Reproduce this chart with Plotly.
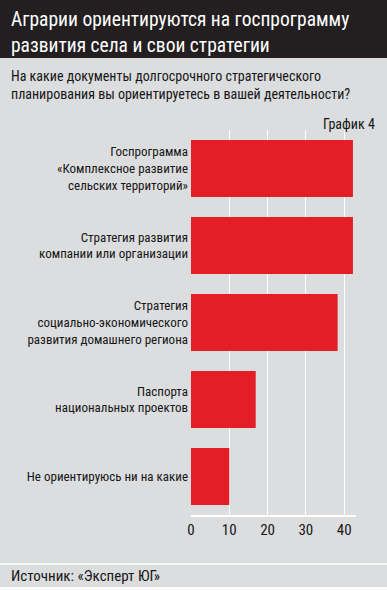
import plotly.graph_objects as go

categories = [
    "Госпрограмма<br>«Комплексное развитие<br>сельских территорий»",
    "Стратегия развития<br>компании или организации",
    "Стратегия<br>социально-экономического<br>развития домашнего региона",
    "Паспорта<br>национальных проектов",
    "Не ориентируюсь ни на какие",
]
values = [42.3, 42.3, 38.3, 16.9, 10.0]
tick_vals = [0, 10, 20, 30, 40]

title_lines = ["Аграрии ориентируются на госпрограмму", "развития села и свои стратегии"]
subtitle = "На какие документы долгосрочного стратегического<br>планирования вы ориентируетесь в вашей деятельности?"
chart_label = "График 4"
source = "Источник: «Эксперт ЮГ»"

W, H = 387, 590
L, R, T, B = 191, 31, 130, 75
pw, ph = W - L - R, H - T - B

FONT = "Roboto Condensed, Liberation Sans Narrow, sans-serif"
BG = "#dcdddf"
RED = "#e41e26"
DARK = "#231f20"
TXT = "#161616"

def px(x):
    return (x - L) / pw

def py(y):
    return (H - B - y) / ph

fig = go.Figure(go.Bar(
    x=values, y=categories, orientation="h",
    marker=dict(color=RED, line=dict(width=0)),
    hoverinfo="skip",
))

fig.update_layout(
    width=W, height=H,
    margin=dict(l=L, r=R, t=T, b=B),
    paper_bgcolor=BG, plot_bgcolor=BG,
    bargap=0.26,
    showlegend=False,
    font=dict(family=FONT, color=TXT),
    xaxis=dict(
        range=[0, 43.1], tickvals=tick_vals, showgrid=True, gridcolor="white", gridwidth=1,
        zeroline=False, showline=True, linecolor="white", linewidth=1.5,
        tickfont=dict(size=15, family=FONT, color=TXT), ticks="", fixedrange=True,
        automargin=False, ticklabelstandoff=0,
    ),
    yaxis=dict(
        autorange="reversed", showgrid=False, zeroline=False, showline=False,
        tickfont=dict(size=13, family=FONT, color=TXT), ticks="",
        ticklabelstandoff=2, fixedrange=True, automargin=False,
    ),
    shapes=[
        dict(type="rect", xref="paper", yref="paper", x0=px(0), x1=px(W), y0=py(58), y1=py(0),
             fillcolor=DARK, line=dict(width=0), layer="below"),
        dict(type="line", xref="paper", yref="paper", x0=px(0), x1=px(W), y0=py(564), y1=py(564),
             line=dict(color="white", width=1.5)),
        dict(type="rect", xref="paper", yref="paper", x0=px(0), x1=px(W), y0=py(590), y1=py(587),
             fillcolor="white", line=dict(width=0)),
    ],
    annotations=[
        dict(text=title_lines[0], xref="paper", yref="paper", x=px(9), y=py(20), xanchor="left",
             yanchor="middle", showarrow=False, font=dict(size=19.5, color="white", family=FONT)),
        dict(text=title_lines[1], xref="paper", yref="paper", x=px(9), y=py(46), xanchor="left",
             yanchor="middle", showarrow=False, font=dict(size=19.5, color="white", family=FONT)),
        dict(text=subtitle, xref="paper", yref="paper", x=px(9), y=py(85), xanchor="left",
             yanchor="middle", align="left", showarrow=False, font=dict(size=14, family=FONT, color=TXT)),
        dict(text=chart_label, xref="paper", yref="paper", x=px(377), y=py(124), xanchor="right",
             yanchor="middle", showarrow=False, font=dict(size=14, family=FONT, color=TXT)),
        dict(text=source, xref="paper", yref="paper", x=px(9), y=py(576), xanchor="left",
             yanchor="middle", showarrow=False, font=dict(size=15, family=FONT, color=TXT)),
    ],
)

fig.write_html(
    "out.html",
    config={"displayModeBar": False},
    post_script="document.body.style.margin='0';document.body.style.overflow='hidden';",
)
